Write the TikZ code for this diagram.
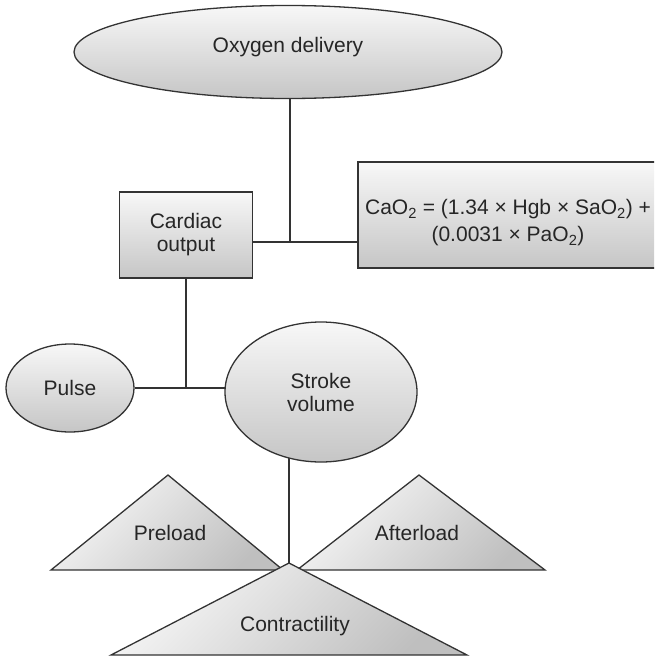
\documentclass[tikz,border=0pt]{standalone}
\usepackage{fontspec}
\setmainfont{Liberation Sans}
\usetikzlibrary{shapes.geometric,backgrounds}

\tikzset{
  shadefill/.style={top color=gray!6, bottom color=gray!45},
  oval/.style={ellipse, draw=black!80, line width=1.3pt, shadefill, inner sep=0pt, align=center},
  box/.style={rectangle, draw=black!80, line width=1.3pt, shadefill, inner sep=0pt, align=center},
  tri/.style={draw=black!80, line width=1.3pt, top color=gray!6, bottom color=gray!50, shading angle=45},
  conn/.style={draw=black!80, line width=1.5pt},
  lbl/.style={inner sep=0pt, anchor=base}
}

\begin{document}
\begin{tikzpicture}[x=1pt,y=-1pt,font=\fontsize{21}{23}\selectfont,text=black!85]
\useasboundingbox (0,0) rectangle (654,656);
\clip (0,0) rectangle (654,656);

% top level
\node[oval, minimum width=428pt, minimum height=93pt, text height=15pt, text depth=15pt] (od) at (288,52) {Oxygen delivery};

% cardiac output and content
\node[box, minimum width=133pt, minimum height=86pt] (co) at (186,235) {Cardiac\\output};
\node[box, minimum width=310pt, minimum height=106pt] (cao) at (513,215) {};
\node[inner sep=0pt, align=center, font=\fontsize{21}{27}\selectfont] (caotxt) at (508,223)
  {CaO\textsubscript{2} = (1.34 × Hgb × SaO\textsubscript{2}) +\\(0.0031 × PaO\textsubscript{2})};
\coordinate (j1) at (290,242);

% pulse and stroke volume
\node[oval, minimum width=128pt, minimum height=88pt] (pu) at (70,388) {Pulse};
\node[oval, minimum width=192pt, minimum height=140pt] (sv) at (321,392) {Stroke\\volume};

% determinants
\draw[tri] (51,570) -- (168,475) -- (283,570) -- cycle;
\node[lbl] (pl) at (170,540) {Preload};
\draw[tri] (297,570) -- (419,475) -- (545,570) -- cycle;
\node[lbl] (al) at (417,540) {Afterload};
\draw[tri] (111,655) -- (289,563) coordinate (ctop) -- (467,655) -- cycle;
\node[lbl] (ct) at (295,631) {Contractility};

\begin{pgfonlayer}{background}
\draw[conn] (j1 |- od.center) -- (j1);
\draw[conn] (co.east |- j1) -- (cao.west |- j1);
\draw[conn] (co.south) -- (co.south |- pu.east);
\draw[conn] (pu.east) -- (pu.east -| sv.center);
\draw[conn] (ctop) -- (ctop |- sv.center);
\end{pgfonlayer}

\end{tikzpicture}
\end{document}
